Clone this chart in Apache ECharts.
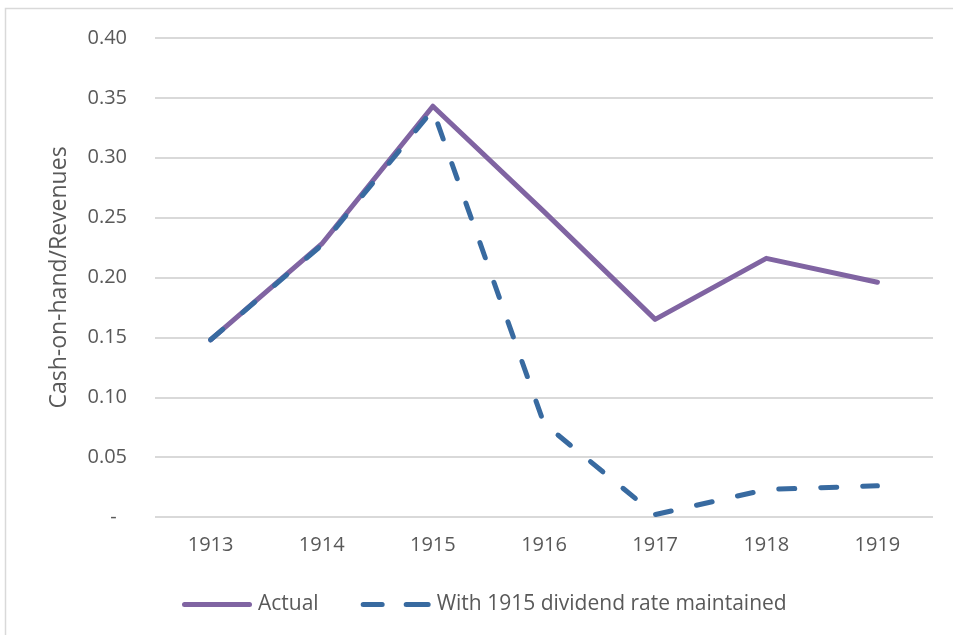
<!DOCTYPE html>
<html>
<head>
<meta charset="utf-8">
<script src="https://cdn.jsdelivr.net/npm/echarts@6/dist/echarts.min.js"></script>
<style>
html,body{margin:0;padding:0;background:#fff;}
#chart{width:953px;height:635px;}
</style>
</head>
<body>
<div id="chart"></div>
<script>
var years = ['1913','1914','1915','1916','1917','1918','1919'];
var actual = [0.148, 0.228, 0.343, 0.255, 0.165, 0.216, 0.196];
var maintained = [0.148, 0.227, 0.340, 0.078, 0.002, 0.023, 0.026];
var yTicks = [0, 0.05, 0.10, 0.15, 0.20, 0.25, 0.30, 0.35, 0.40];

var font = 'Open Sans';
var textColor = '#595959';
var purple = '#8064a2';
var blue = '#386aa0';
var chart = echarts.init(document.getElementById('chart'));
chart.setOption({
  animation: false,
  backgroundColor: '#ffffff',
  graphic: [{
    type: 'rect',
    shape: {x: 5.5, y: 8.5, width: 960, height: 640},
    style: {fill: 'none', stroke: '#d9d9d9', lineWidth: 1.5},
    silent: true
  }],
  grid: {left: 155, right: 20, top: 38, bottom: 118},
  legend: {
    left: 177,
    top: 589,
    itemWidth: 70,
    itemHeight: 5,
    itemGap: 42,
    textStyle: {fontFamily: font, fontSize: 21, color: textColor, padding: [0,0,0,1]},
    data: [
      {name: 'Actual', icon: 'path://M2.5,0H67.5A2.5,2.5,0,0,1,67.5,5H2.5A2.5,2.5,0,0,1,2.5,0Z', itemStyle: {color: purple}},
      {name: 'With 1915 dividend rate maintained', icon: 'path://M2.5,0H21.5A2.5,2.5,0,0,1,21.5,5H2.5A2.5,2.5,0,0,1,2.5,0Z M45.5,0H67.5A2.5,2.5,0,0,1,67.5,5H45.5A2.5,2.5,0,0,1,45.5,0Z', itemStyle: {color: blue}}
    ]
  },
  xAxis: {
    type: 'category',
    data: years,
    boundaryGap: true,
    axisLine: {show: false},
    axisTick: {show: false},
    axisLabel: {fontFamily: font, fontSize: 20, color: textColor, margin: 18}
  },
  yAxis: {
    type: 'value',
    min: 0,
    max: 0.40,
    interval: 0.05,
    name: 'Cash-on-hand/Revenues',
    nameLocation: 'middle',
    nameGap: 84,
    nameTextStyle: {fontFamily: font, fontSize: 23, color: textColor},
    axisLine: {show: false},
    axisTick: {show: false},
    splitLine: {lineStyle: {color: '#d9d9d9', width: 2}},
    axisLabel: {
      fontFamily: font, fontSize: 20, color: textColor, margin: 28,
      formatter: function (v) {
        if (Math.abs(v) < 1e-9) return '-  ';
        return v.toFixed(2);
      }
    }
  },
  series: [{
    name: 'Actual',
    type: 'line',
    data: actual,
    symbol: 'none',
    lineStyle: {color: purple, width: 5, cap: 'round', join: 'round'},
    itemStyle: {color: purple},
    z: 2
  }, {
    name: 'With 1915 dividend rate maintained',
    type: 'line',
    data: maintained,
    symbol: 'none',
    lineStyle: {color: blue, width: 5, type: [16, 26], cap: 'round', join: 'round'},
    itemStyle: {color: blue},
    z: 3
  }]
});
</script>
</body>
</html>
